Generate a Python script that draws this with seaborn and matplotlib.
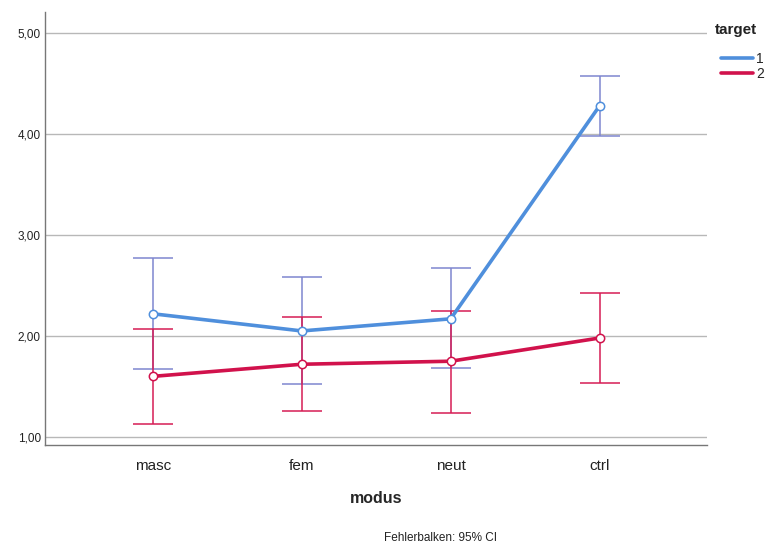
import numpy as np
import pandas as pd
import matplotlib
matplotlib.use("Agg")
import matplotlib.pyplot as plt
import seaborn as sns
from matplotlib.lines import Line2D

# ---- data ----
categories = ["masc", "fem", "neut", "ctrl"]
target_levels = ["1", "2"]
mean_t1 = [2.22, 2.05, 2.17, 4.28]
lo_t1 = [1.67, 1.52, 1.68, 3.98]
hi_t1 = [2.77, 2.58, 2.67, 4.58]
mean_t2 = [1.60, 1.72, 1.75, 1.98]
lo_t2 = [1.13, 1.26, 1.24, 1.53]
hi_t2 = [2.07, 2.19, 2.25, 2.43]
yticks = [1, 2, 3, 4, 5]

line_colors = {"1": "#4f8fdc", "2": "#d1124c"}
err_colors = {"1": "#7f86cf", "2": "#d61c55"}

df = pd.DataFrame({
    "modus": categories * 2,
    "target": ["1"] * 4 + ["2"] * 4,
    "mean": mean_t1 + mean_t2,
    "lo": lo_t1 + lo_t2,
    "hi": hi_t1 + hi_t2,
})

sns.set_style("white")
plt.rcParams["font.family"] = ["Liberation Sans", "DejaVu Sans"]

fig = plt.figure(figsize=(7.69, 5.46), dpi=100)
ax = fig.add_axes([0.0585, 0.185, 0.8605, 0.793])

# gridlines
for t in yticks:
    ax.axhline(t, color="#b8b8b8", lw=1.0, zorder=0)

# error bars
for tg in target_levels:
    sub = df[df["target"] == tg]
    xs = np.arange(len(sub))
    ax.errorbar(xs, sub["mean"], yerr=[sub["mean"] - sub["lo"], sub["hi"] - sub["mean"]],
                fmt="none", ecolor=err_colors[tg], elinewidth=1.1, capsize=14.5,
                capthick=1.1, zorder=2)

n_before = len(ax.lines)
sns.pointplot(data=df, x="modus", y="mean", hue="target", order=categories,
              hue_order=target_levels, palette=line_colors, errorbar=None,
              markers="o", linestyles="-", ax=ax, legend=False, zorder=3)
for ln in ax.lines[n_before:]:
    c = ln.get_color()
    ln.set_linewidth(2.6)
    ln.set_markersize(6)
    ln.set_markerfacecolor("white")
    ln.set_markeredgecolor(c)
    ln.set_markeredgewidth(1.1)
    ln.set_zorder(3)

ax.set_xlim(-0.725, 3.72)
ax.set_ylim(0.92, 5.21)
ax.set_yticks(yticks)
ax.set_yticklabels([f"{v:.2f}".replace(".", ",") for v in yticks], fontsize=8.5, color="#222222")
ax.tick_params(axis="x", labelsize=11, colors="#222222", length=0, pad=10)
ax.tick_params(axis="y", length=0, pad=3)
ax.set_xlabel("modus", fontsize=11.5, fontweight="bold", labelpad=13)
ax.set_ylabel("")

for s in ["top", "right"]:
    ax.spines[s].set_visible(False)
ax.spines["left"].set_color("#777777")
ax.spines["bottom"].set_color("#777777")
ax.spines["left"].set_linewidth(1.0)
ax.spines["bottom"].set_linewidth(1.0)

# legend title and entries
fig.text(715 / 769, 1 - 30 / 546, "target", fontsize=11, fontweight="bold",
         color="#222222", ha="left", va="center")
handles = [Line2D([0], [0], color=line_colors[t], lw=2.6) for t in target_levels]
leg = fig.legend(handles, target_levels, loc="upper left",
                 bbox_to_anchor=(718 / 769, 1 - 49 / 546), frameon=False, fontsize=10,
                 handlelength=2.3, handletextpad=0.25, labelspacing=0.08,
                 borderaxespad=0.0, borderpad=0.2)

fig.text(0.5, 0.009, "Fehlerbalken: 95% CI", fontsize=8.5, color="#222222", ha="left",
         transform=fig.transFigure)

fig.savefig("out.png", dpi=100)
